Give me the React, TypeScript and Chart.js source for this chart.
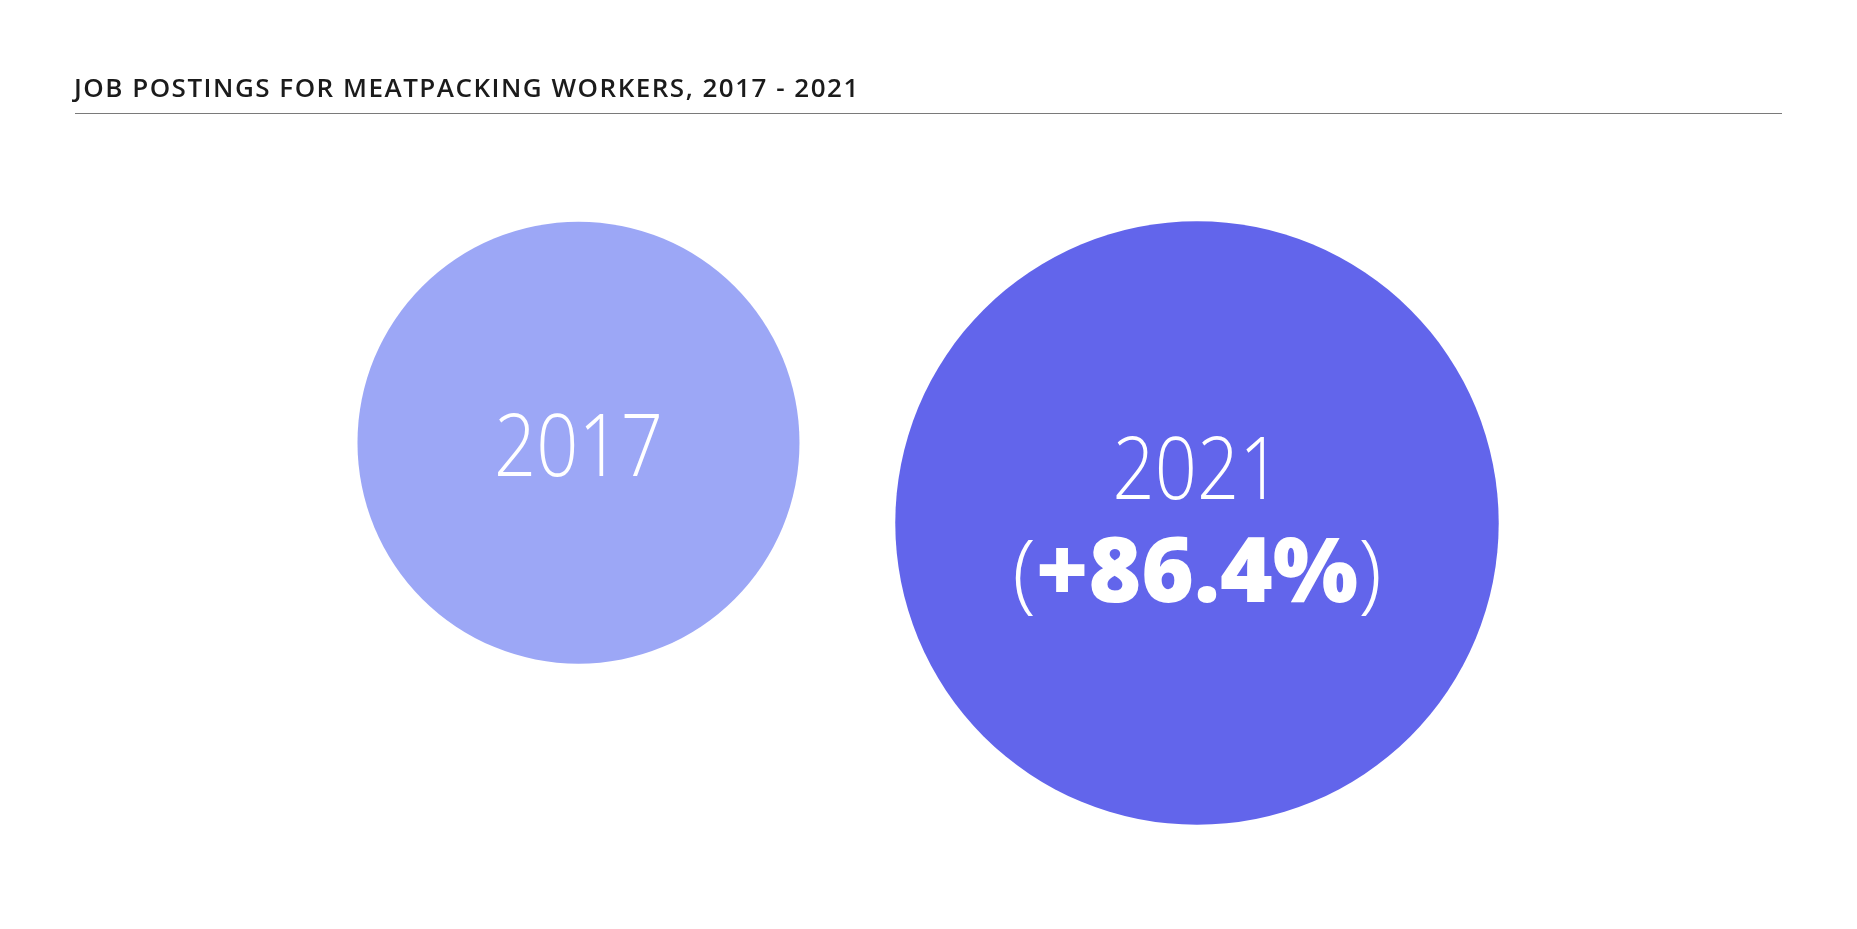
import React, { useEffect, useRef } from 'react';
import { Chart, registerables } from 'chart.js';

Chart.register(...registerables);

const chartTitle = 'JOB POSTINGS FOR MEATPACKING WORKERS, 2017 - 2021';
const years: string[] = ['2017', '2021'];
// Job postings indexed to 2017 = 100
const postingsIndex: number[] = [100, 186.4];
const xPositions: number[] = [1, 2];
const yPositions: number[] = [0.047, -0.126];
const bubbleColors: string[] = ['#9CA7F6', '#6265EB'];

const RADIUS_PER_SQRT = 22.1;
const TITLE_FONT = '600 26px "Open Sans"';
const TITLE_SPACING = '1.5px';
const LIGHT_FONT = '300 87px "Open Sans"';
const BOLD_FONT = '800 90px "Open Sans"';
const DIGIT_SX = 0.85;

function drawScaled(ctx: CanvasRenderingContext2D, text: string, x: number, y: number, sx: number) {
  ctx.save();
  ctx.translate(x, y);
  ctx.scale(sx, 1);
  ctx.fillText(text, 0, 0);
  ctx.restore();
}

const labelPlugin = {
  id: 'bubbleLabels',
  beforeDraw(chart: any) {
    const ctx: CanvasRenderingContext2D = chart.ctx;
    ctx.save();
    ctx.fillStyle = '#1b1b1b';
    ctx.font = TITLE_FONT;
    (ctx as any).letterSpacing = TITLE_SPACING;
    ctx.textBaseline = 'alphabetic';
    ctx.textAlign = 'left';
    ctx.fillText(chartTitle, 74, 97);
    ctx.restore();
    ctx.save();
    ctx.strokeStyle = '#7a7a7a';
    ctx.lineWidth = 1.2;
    ctx.beginPath();
    ctx.moveTo(75, 113.5);
    ctx.lineTo(1782, 113.5);
    ctx.stroke();
    ctx.restore();
  },
  afterDatasetsDraw(chart: any) {
    const ctx: CanvasRenderingContext2D = chart.ctx;
    const meta = chart.getDatasetMeta(0);
    ctx.save();
    ctx.fillStyle = '#ffffff';
    ctx.textBaseline = 'alphabetic';
    ctx.textAlign = 'left';
    meta.data.forEach((el: any, i: number) => {
      const { x, y } = el;
      if (i === 0) {
        ctx.font = LIGHT_FONT;
        const w = ctx.measureText(years[i]).width * DIGIT_SX;
        drawScaled(ctx, years[i], x - w / 2, y + 33, DIGIT_SX);
      } else {
        ctx.font = LIGHT_FONT;
        const w = ctx.measureText(years[i]).width * DIGIT_SX;
        drawScaled(ctx, years[i], x - w / 2, y - 24, DIGIT_SX);
        const pct = (postingsIndex[i] / postingsIndex[0] - 1) * 100;
        const pctText = (pct >= 0 ? '+' : '') + pct.toFixed(1) + '%';
        ctx.font = LIGHT_FONT;
        const wl = ctx.measureText('(').width;
        const wr = ctx.measureText(')').width;
        ctx.font = BOLD_FONT;
        const wb = ctx.measureText(pctText).width;
        const total = wl + wb + wr;
        let cx = x - total / 2;
        const base = y + 79;
        ctx.font = LIGHT_FONT;
        ctx.fillText('(', cx, base);
        cx += wl;
        ctx.font = BOLD_FONT;
        ctx.fillText(pctText, cx, base);
        cx += wb;
        ctx.font = LIGHT_FONT;
        ctx.fillText(')', cx, base);
      }
    });
    ctx.restore();
  },
};

export default function App() {
  const canvasRef = useRef<HTMLCanvasElement | null>(null);

  useEffect(() => {
    if (!canvasRef.current) return;
    const chart = new Chart(canvasRef.current, {
      type: 'bubble',
      data: {
        datasets: [
          {
            label: 'Job postings',
            data: years.map((yr, i) => ({ x: xPositions[i], y: yPositions[i], v: postingsIndex[i] })) as any,
            backgroundColor: bubbleColors,
            borderWidth: 0,
            hoverBorderWidth: 0,
            clip: false,
            radius: (c: any) => RADIUS_PER_SQRT * Math.sqrt(c.raw.v),
          } as any,
        ],
      },
      options: {
        responsive: false,
        animation: false,
        devicePixelRatio: 1,
        layout: { padding: 0, autoPadding: false } as any,
        scales: {
          x: { type: 'linear', display: false, min: 0.0647, max: 3.0671 },
          y: { type: 'linear', display: false, min: -1, max: 1 },
        },
        plugins: {
          legend: { display: false },
          tooltip: { enabled: false },
        },
        events: [],
      },
      plugins: [labelPlugin],
    });
    return () => chart.destroy();
  }, []);

  return (
    <div style={{ position: 'absolute', left: 0, top: 0, width: 1857, height: 929, background: '#ffffff' }}>
      <canvas ref={canvasRef} width={1857} height={929} />
    </div>
  );
}
